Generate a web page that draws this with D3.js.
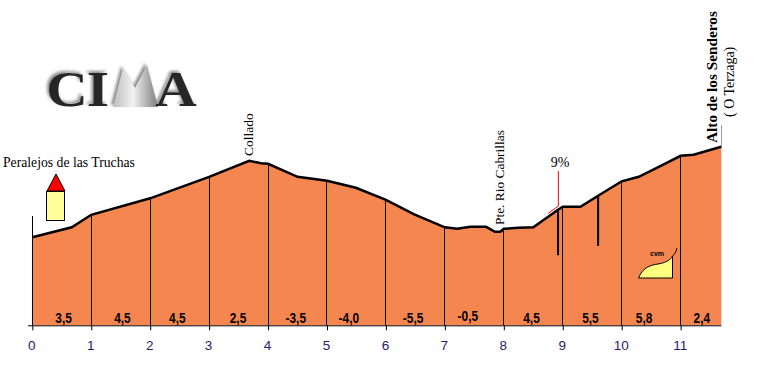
<!DOCTYPE html>
<html>
<head>
<meta charset="utf-8">
<script src="https://cdn.jsdelivr.net/npm/d3@7"></script>
<style>
  html, body { margin: 0; padding: 0; background: #fff; }
  text { font-family: "Liberation Serif", serif; fill: #000; }
</style>
</head>
<body>
<div id="wrapper"></div>
<script>
// profile: km and metres
const km = [0, 0.67, 1, 2, 3, 3.68, 3.88, 4, 4.5, 5, 5.49, 6, 6.48, 7, 7.21, 7.43, 7.7, 7.85, 7.94, 8, 8.25, 8.5, 8.92, 9, 9.3, 9.6, 10, 10.29, 10.68, 11, 11.22, 11.69]
const elevation = [1176, 1196, 1221, 1254, 1297, 1329, 1324, 1323, 1297, 1289, 1275, 1251, 1222, 1196, 1193, 1197, 1197, 1187, 1187, 1193, 1195, 1196, 1231, 1237, 1237, 1259, 1288, 1297, 1320, 1339, 1341, 1357]

const kmTicks = [0, 1, 2, 3, 4, 5, 6, 7, 8, 9, 10, 11]
const gradients = ["3,5", "4,5", "4,5", "2,5", "-3,5", "-4,0", "-5,5", "-0,5", "4,5", "5,5", "5,8", "2,4"]
const gradientKm = [0.53, 1.53, 2.46, 3.49, 4.47, 5.37, 6.46, 7.39, 8.47, 9.47, 10.38, 11.36]
const gradientDrop = [0, 0, 0, 0, 0, 0, 0, 2, 0, 0, 0, 0]

const steepKm = [8.92, 9.6]
const steepBottom = [1140, 1159]

const width = 775
const height = 371
const endKm = 11.69

const xScale = d3.scaleLinear()
  .domain([0, endKm])
  .range([32.3, 721.3])

const yScale = d3.scaleLinear()
  .domain([1000, 1400])
  .range([325.3, 125.3])

const elevationAt = d3.scaleLinear().domain(km).range(elevation)

const wrapper = d3.select("#wrapper")
  .append("svg")
    .attr("width", width)
    .attr("height", height)
    .style("display", "block")

const defs = wrapper.append("defs")

const points = km.map((d, i) => [d, elevation[i]])

const area = d3.area()
  .x(d => xScale(d[0]))
  .y0(yScale(1000))
  .y1(d => yScale(d[1]))

const line = d3.line()
  .x(d => xScale(d[0]))
  .y(d => yScale(d[1]))

wrapper.append("path")
  .attr("d", area(points))
  .attr("fill", "#f5864f")

// km dividers
wrapper.append("g")
  .selectAll("line")
  .data(kmTicks)
  .join("line")
    .attr("x1", d => xScale(d))
    .attr("x2", d => xScale(d))
    .attr("y1", yScale(1000))
    .attr("y2", d => yScale(elevationAt(d)))
    .attr("stroke", "#000")
    .attr("stroke-width", 1)
    .attr("shape-rendering", "crispEdges")

// left wall, sticks out above the start of the profile
wrapper.append("line")
  .attr("x1", xScale(0))
  .attr("x2", xScale(0))
  .attr("y1", yScale(1000))
  .attr("y2", 216)
  .attr("stroke", "#000")
  .attr("shape-rendering", "crispEdges")

// faint line going up at the end of the climb
wrapper.append("line")
  .attr("x1", xScale(endKm))
  .attr("x2", xScale(endKm))
  .attr("y1", yScale(elevationAt(endKm)))
  .attr("y2", 125)
  .attr("stroke", "#999")
  .attr("shape-rendering", "crispEdges")

wrapper.append("path")
  .attr("d", line(points))
  .attr("fill", "none")
  .attr("stroke", "#000")
  .attr("stroke-width", 2.5)

// steep sections
wrapper.append("g")
  .selectAll("line")
  .data(steepKm)
  .join("line")
    .attr("x1", d => xScale(d))
    .attr("x2", d => xScale(d))
    .attr("y1", d => yScale(elevationAt(d)))
    .attr("y2", (d, i) => yScale(steepBottom[i]))
    .attr("stroke", "#000")
    .attr("stroke-width", 2)

// 9% marker
wrapper.append("path")
  .attr("d", d3.line()([[xScale(8.75), 213.5], [xScale(8.925), 206], [xScale(8.925), 171]]))
  .attr("fill", "none")
  .attr("stroke", "#ff0000")
wrapper.append("text")
  .attr("x", 560)
  .attr("y", 167)
  .attr("text-anchor", "middle")
  .style("font-size", "14px")
  .text("9%")

// x axis
const xAxisGenerator = d3.axisBottom()
  .scale(xScale)
  .tickValues(kmTicks)
  .tickFormat(d3.format("d"))
  .tickSize(5)
  .tickPadding(10)
  .tickSizeOuter(0)

const xAxis = wrapper.append("g")
  .attr("transform", `translate(0, ${yScale(1000)})`)
  .call(xAxisGenerator)

xAxis.select(".domain")
  .attr("d", `M28,0.5H${xScale(endKm)}`)
  .attr("stroke", "#000")

xAxis.selectAll("text")
  .attr("dx", -1)
  .style("font-family", "'Liberation Sans', sans-serif")
  .style("font-size", "13.5px")
  .style("fill", "#2a1a70")

// gradient of each km, narrow and tall in the reference
wrapper.append("g")
  .selectAll("text")
  .data(gradients)
  .join("text")
    .attr("transform", (d, i) => `translate(${xScale(gradientKm[i])}, ${323 - gradientDrop[i]}) scale(0.85, 1.1)`)
    .attr("text-anchor", "middle")
    .style("font-family", "'Liberation Sans', sans-serif")
    .style("font-weight", "bold")
    .style("font-size", "14px")
    .text(d => d)

// place names
wrapper.append("text")
  .attr("x", 3)
  .attr("y", 167)
  .style("font-size", "13.7px")
  .text("Peralejos de las Truchas")

const rotated = (x, y, label, size, weight) => wrapper.append("text")
  .attr("transform", `translate(${x}, ${y}) rotate(-90)`)
  .style("font-size", size)
  .style("font-weight", weight)
  .text(label)

rotated(253, 156, "Collado", "13.5px", "normal")
rotated(504, 225, "Pte. Rio Cabrillas", "13.4px", "normal")
rotated(717, 143, "Alto de los Senderos", "15.3px", "bold")
rotated(734, 117, "( O Terzaga)", "14px", "normal")

// village icon at the start
wrapper.append("rect")
  .attr("x", 46.5).attr("y", 191.5).attr("width", 18).attr("height", 29)
  .attr("fill", "#ffff99").attr("stroke", "#000")
wrapper.append("path")
  .attr("d", "M47,191L56,174L65,191Z")
  .attr("fill", "#ff0000").attr("stroke", "#000")

// small climb icon
wrapper.append("path")
  .attr("d", "M638.5,278C643,267 651,265 658,264C664,263 670,261 672.5,256L672.5,278Z")
  .attr("fill", "#ffff80").attr("stroke", "#000")
wrapper.append("path")
  .attr("d", "M672.5,256C675,254 676,252 677,248")
  .attr("fill", "none").attr("stroke", "#000")
wrapper.append("text")
  .attr("x", 657)
  .attr("y", 256)
  .attr("text-anchor", "middle")
  .style("font-family", "'Liberation Sans', sans-serif")
  .style("font-weight", "bold")
  .style("font-size", "7px")
  .text("cvm")

// logo
const shadow = defs.append("filter").attr("id", "logoShadow")
  .attr("x", "-30%").attr("y", "-30%").attr("width", "160%").attr("height", "160%")
shadow.append("feDropShadow")
  .attr("dx", -2).attr("dy", -2).attr("stdDeviation", 1.5)
  .attr("flood-color", "#888")

const rock = defs.append("linearGradient").attr("id", "rock")
  .attr("x1", 0).attr("x2", 1).attr("y1", 0).attr("y2", 0)
rock.append("stop").attr("offset", 0).attr("stop-color", "#bdbdbd")
rock.append("stop").attr("offset", 0.45).attr("stop-color", "#f2f2f2")
rock.append("stop").attr("offset", 1).attr("stop-color", "#7d7d7d")

const logoLetters = ["C", "I", "A"]
const logoX = [67, 98, 176]
const logo = wrapper.append("g")
  .attr("filter", "url(#logoShadow)")
  .style("font-family", "'DejaVu Sans Mono', monospace")
  .style("font-weight", "bold")
  .style("font-size", "50px")

logo.append("path")
  .attr("d", "M113,107L123,68L135,88L147,65L158,107Z")
  .attr("fill", "url(#rock)")
logo.selectAll("text")
  .data(logoLetters)
  .join("text")
    .attr("transform", (d, i) => `translate(${logoX[i]}, 106) scale(1.15, 1)`)
    .attr("text-anchor", "middle")
    .style("fill", "#262626")
    .text(d => d)
</script>
</body>
</html>
